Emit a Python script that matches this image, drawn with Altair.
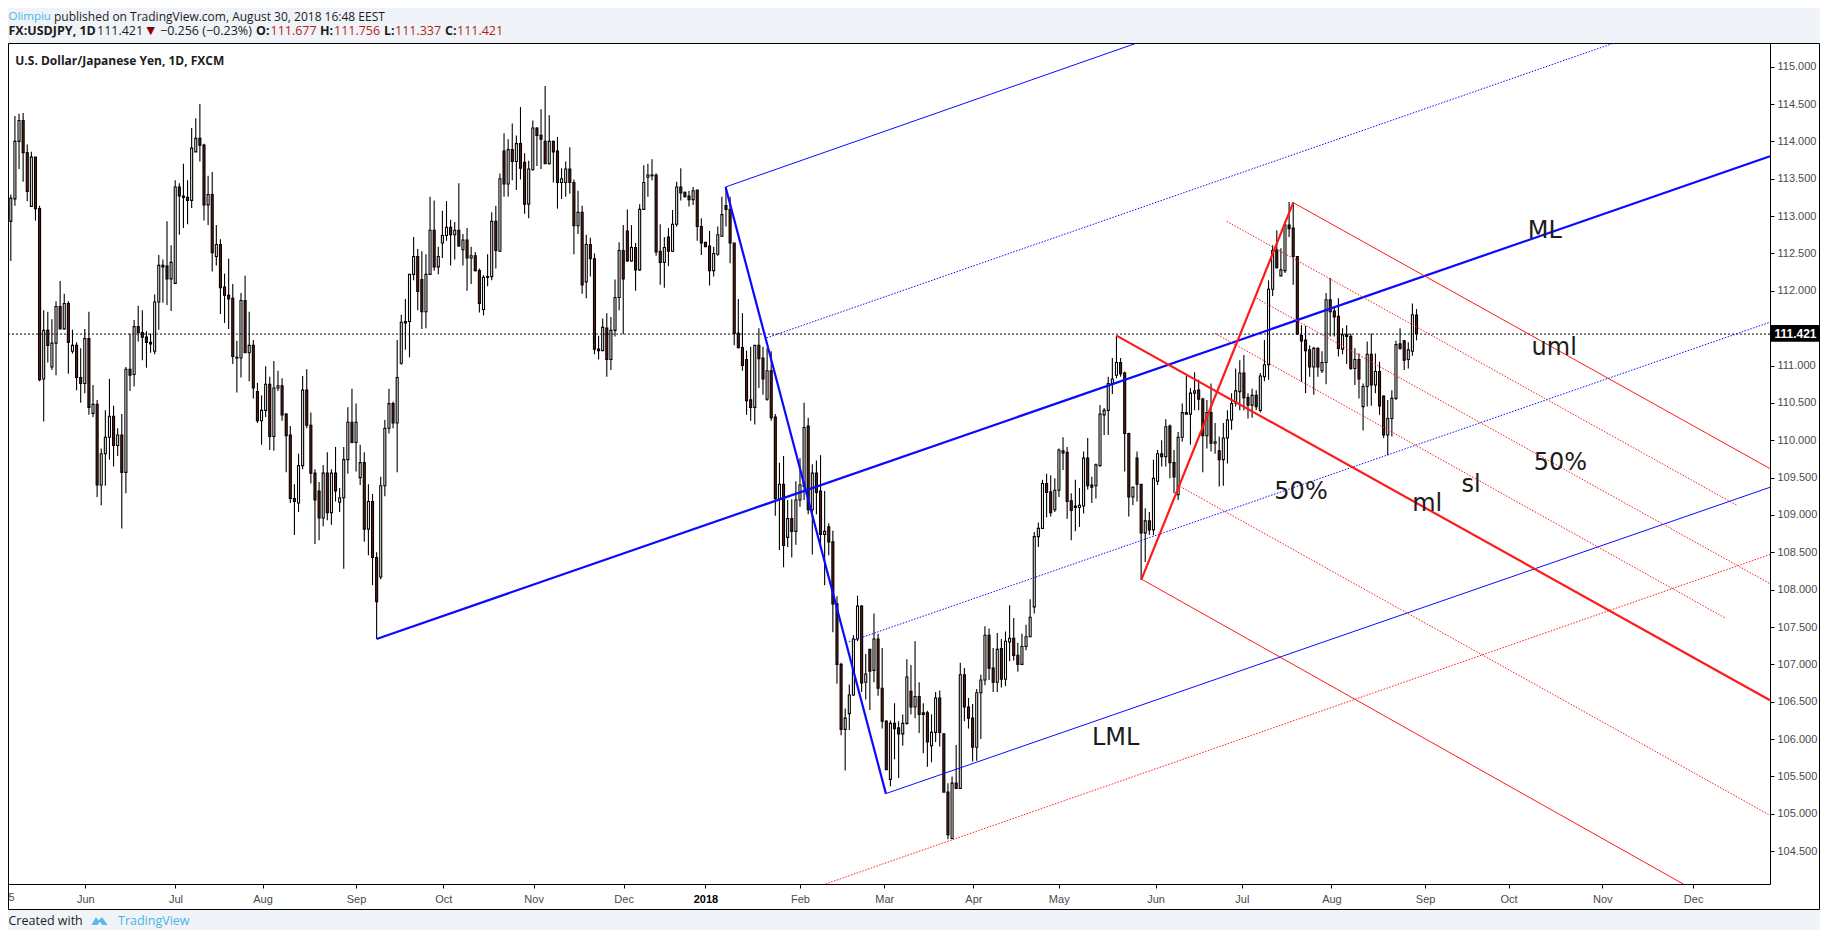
import altair as alt
import pandas as pd

directions = ("DUUUDDUDDU" "DUUDUDUDDU" "DUDUUUDUDU" "DUDDDDUUDD" "UUDDDUUDDU"
              "DUDDDDDUDU" "DDUUDUUDDD" "DUUDDDDUDU" "DUUUDUUDUD" "DUUUDUUDUU"
              "DDUUDUUUDU" "DUDUDDUDUD" "UDUDUDDUUD" "DDUDDUUDDU" "DUDDDUDUUU"
              "DDUDUUUDDD" "UDUUDDDUDD" "DDUUUDDDDD" "DDUDDUDDUD" "UDUUUDUDDU"
              "DDDDUUUUDU" "DUDDDUDDUU" "DUDDDUUDDD" "UDUDDDUUUD" "DUDUUDDUUU"
              "UUUDDUUDDD" "DUUDDUUUUU" "UDDDUDDUDU" "UDUDDUUDUU" "DDUDUDUUUU"
              "UDDUDUUUUD" "UUDDDDDDUD" "UUDDDUDDUD" "UUDUDDUUUD" "DUUD")

highs = [
 112.64,113.29,114.34,114.37,114.38,113.96,113.86,113.79,113.14,111.74,
 111.72,111.62,111.86,112.13,111.96,111.86,111.48,111.31,111.23,111.49,
 111.72,110.74,110.54,109.89,110.40,110.82,110.46,110.16,110.35,110.98,
 111.43,111.61,111.80,111.74,111.46,111.43,111.95,112.48,112.42,112.93,
 112.61,113.48,113.44,113.70,113.48,114.18,114.31,114.50,113.97,113.54,
 113.59,112.88,112.69,112.23,112.43,112.09,111.33,111.97,112.20,111.72,
 111.34,110.77,110.60,110.99,110.85,111.06,110.93,110.83,110.36,110.19,
 109.41,109.82,110.86,110.95,110.37,109.61,109.44,109.67,109.84,109.61,
 109.91,109.36,109.91,110.44,110.69,110.49,109.94,109.84,109.41,109.28,
 108.50,109.51,110.27,110.69,110.52,111.34,111.68,111.89,112.22,112.72,
 112.56,112.53,112.49,113.26,113.21,112.59,113.07,113.20,112.95,112.92,
 113.44,112.76,112.84,112.59,112.52,112.30,112.21,112.49,113.05,113.14,
 113.57,114.11,114.03,114.24,114.08,114.46,113.84,113.74,114.28,114.19,
 114.43,114.74,114.35,114.01,114.06,113.64,113.73,113.92,113.49,113.34,
 113.14,112.75,112.71,112.50,111.40,111.63,111.70,111.65,112.15,112.65,
 112.88,113.09,112.88,112.64,113.16,113.68,113.70,113.76,113.57,112.89,
 112.72,112.84,113.08,113.46,113.64,113.33,113.34,113.39,113.35,112.97,
 112.65,112.80,112.59,112.86,113.26,113.39,113.26,112.64,111.89,111.70,
 111.20,111.25,111.27,111.50,111.25,111.23,111.19,110.35,109.70,109.79,
 109.20,109.21,109.45,109.76,110.50,110.30,109.68,109.73,109.80,109.32,
 108.89,108.79,107.91,107.02,106.41,106.73,107.39,107.92,107.79,107.14,
 107.20,107.68,107.41,107.22,106.25,106.25,106.48,106.24,106.33,107.07,
 106.99,107.31,106.76,106.48,106.38,106.33,106.63,106.65,106.07,105.41,
 105.50,105.92,107.02,106.95,106.55,106.47,106.67,106.86,107.51,107.48,
 107.22,107.42,107.34,107.44,107.79,107.62,107.29,107.41,107.53,107.87,
 108.77,108.90,109.47,109.55,109.53,109.49,109.89,110.04,109.91,109.29,
 109.47,109.36,109.85,110.03,109.51,109.69,110.47,110.43,110.85,111.10,
 111.40,111.10,110.92,110.10,109.38,109.85,109.41,109.09,109.04,109.74,
 109.87,110.00,110.28,110.21,109.87,110.11,110.49,110.86,110.70,110.91,
 110.81,110.57,110.54,110.76,110.23,110.05,110.23,110.40,110.63,110.96,
 111.07,111.14,110.63,110.69,110.67,110.90,111.34,112.14,112.61,112.81,
 112.57,112.93,113.19,113.19,112.46,111.54,111.53,111.27,111.25,111.24,
 111.19,111.97,112.17,111.77,111.90,111.50,111.54,111.43,111.23,111.16,
 110.76,111.32,111.43,111.16,111.05,110.60,110.54,110.67,111.33,111.50,
 111.34,111.31,111.83,111.756]

body_tops = [
 112.64,113.24,114.00,114.28,114.28,113.85,113.79,113.79,113.10,111.47,
 111.47,111.30,111.79,111.79,111.83,111.83,111.27,111.27,110.84,111.36,
 111.36,110.48,110.48,109.82,110.04,110.32,110.32,110.07,110.07,110.95,
 110.95,111.52,111.52,111.44,111.38,111.31,111.85,112.34,112.34,112.33,
 112.38,113.39,113.39,113.27,113.25,113.91,114.04,114.04,113.95,113.29,
 113.29,112.62,112.62,112.05,111.94,111.90,111.11,111.87,111.87,111.27,
 111.27,110.65,110.40,110.75,110.75,110.70,110.73,110.73,110.35,110.07,
 109.22,109.66,110.67,110.67,110.20,109.56,109.32,109.56,109.56,109.56,
 109.56,109.23,109.74,110.24,110.24,110.24,109.70,109.70,109.18,109.18,
 108.43,109.39,110.16,110.49,110.49,110.84,111.58,111.59,112.22,112.46,
 112.46,112.15,112.22,112.81,112.81,112.46,112.74,112.85,112.85,112.81,
 112.81,112.68,112.68,112.47,112.47,112.27,112.18,112.19,112.93,112.93,
 113.50,113.87,113.89,113.89,113.97,113.97,113.72,113.63,114.18,114.18,
 114.08,114.00,114.00,114.00,113.87,113.50,113.63,113.63,113.45,113.05,
 113.05,112.62,112.62,112.43,111.22,111.51,111.50,111.47,111.91,112.54,
 112.54,112.80,112.58,112.58,113.09,113.45,113.55,113.55,113.55,112.53,
 112.58,112.72,112.89,113.39,113.39,113.32,113.27,113.34,113.35,112.86,
 112.65,112.60,112.50,112.75,113.02,113.14,113.09,112.64,111.43,111.24,
 111.08,110.54,111.27,111.27,111.10,110.93,110.93,110.31,109.41,109.41,
 108.95,108.95,109.20,109.40,110.17,110.19,109.56,109.56,109.32,108.78,
 108.84,108.64,107.81,107.00,106.28,106.59,107.34,107.78,107.78,106.87,
 107.20,107.34,107.34,106.68,106.24,106.21,106.21,106.15,106.21,106.83,
 106.64,106.57,106.57,106.35,106.35,106.09,106.55,106.55,106.07,105.29,
 105.41,105.41,106.86,106.86,106.43,106.28,106.62,106.79,107.39,107.39,
 106.95,107.20,107.21,107.31,107.35,107.35,107.12,107.24,107.37,107.63,
 108.71,108.82,109.42,109.42,109.31,109.33,109.87,109.86,109.84,109.19,
 109.12,109.13,109.76,109.76,109.40,109.67,110.35,110.40,110.76,110.82,
 111.04,111.04,110.90,110.09,109.37,109.76,109.41,108.92,108.92,109.49,
 109.82,109.82,110.18,110.19,109.70,110.04,110.37,110.37,110.63,110.66,
 110.67,110.55,110.37,110.37,109.98,109.86,110.03,110.27,110.49,110.66,
 110.90,110.90,110.57,110.60,110.60,110.86,111.01,112.02,112.54,112.55,
 112.28,112.88,112.88,112.84,112.46,111.40,111.34,111.21,111.23,111.23,
 111.04,111.88,111.88,111.73,111.66,111.41,111.41,111.39,111.08,111.08,
 110.72,111.15,111.15,110.92,110.92,110.59,110.29,110.56,111.28,111.29,
 111.33,111.21,111.68,111.677]

body_bottoms = [
 112.45,112.93,113.23,114.00,113.85,113.33,113.13,113.10,110.81,110.82,
 111.27,110.98,111.30,111.49,111.49,111.31,111.19,110.84,110.76,110.76,
 110.44,110.36,109.40,109.40,109.82,110.04,109.93,109.93,109.57,109.57,
 110.87,110.88,111.44,111.38,111.31,111.29,111.19,111.85,112.32,112.16,
 112.16,112.10,113.27,113.25,113.21,113.21,113.86,113.95,113.15,113.15,
 112.51,112.46,112.04,111.94,111.89,111.12,111.10,111.10,111.17,111.17,
 110.70,110.26,110.26,110.40,110.05,110.05,110.70,110.34,110.06,109.22,
 109.18,109.16,109.66,110.20,109.56,109.20,108.96,108.96,109.03,109.03,
 109.32,109.17,109.23,109.74,109.97,109.97,109.50,108.81,108.81,108.43,
 107.84,108.17,109.39,110.16,110.23,110.23,111.03,111.57,111.59,112.22,
 111.99,111.72,111.72,112.22,112.32,112.32,112.64,112.74,112.75,112.75,
 112.60,112.55,112.44,112.44,112.27,111.83,111.75,112.18,112.19,112.54,
 112.53,113.43,113.43,113.73,113.73,113.64,113.16,113.16,113.62,114.08,
 114.03,113.70,113.70,113.86,113.45,113.45,113.45,113.45,112.87,112.87,
 112.08,112.12,112.43,111.22,111.20,111.20,111.08,111.08,111.47,111.91,
 112.16,112.40,112.40,112.28,112.28,113.09,113.52,113.54,112.52,112.38,
 112.38,112.53,112.53,112.89,113.31,113.26,113.22,113.22,112.86,112.64,
 112.59,112.27,112.27,112.49,112.73,113.09,112.64,111.43,111.24,111.00,
 110.53,110.44,110.44,111.09,110.82,110.55,110.30,109.22,109.22,108.59,
 108.70,108.78,108.78,109.20,109.38,109.07,109.07,109.30,108.74,108.74,
 108.64,107.81,107.00,106.13,106.13,106.34,106.59,107.34,106.75,106.76,
 106.91,106.92,106.68,106.24,105.59,105.46,106.14,106.07,106.07,106.21,
 106.43,106.43,106.33,106.33,105.96,105.91,106.09,106.09,105.29,104.72,
 104.67,105.34,105.34,106.43,106.28,105.89,105.89,106.62,106.79,106.95,
 106.76,106.76,106.80,106.80,107.30,107.12,107.00,107.00,107.24,107.37,
 107.77,108.71,108.82,109.30,109.03,109.07,109.33,109.83,109.18,109.06,
 109.10,109.10,109.12,109.39,109.37,109.39,109.66,110.34,110.40,110.76,
 110.87,110.89,110.09,109.24,109.24,109.41,108.76,108.76,108.80,108.80,
 109.45,109.78,109.78,109.70,109.51,109.27,110.04,110.35,110.35,110.63,
 110.55,110.06,110.06,109.96,109.96,109.74,109.74,110.03,110.27,110.50,
 110.65,110.57,110.47,110.47,110.45,110.40,110.85,111.01,112.02,112.31,
 112.20,112.27,112.83,112.46,111.42,111.33,111.20,110.98,110.98,110.98,
 110.93,111.04,111.72,111.65,111.23,111.22,111.39,110.96,110.96,110.82,
 110.45,110.72,110.74,110.74,110.46,110.07,110.07,110.29,110.56,111.23,
 111.07,111.08,111.19,111.421]

lows = [
 112.40,112.40,113.14,113.63,113.46,113.20,113.13,112.94,110.79,110.25,
 111.04,110.94,110.87,111.49,111.48,110.89,111.16,110.67,110.50,110.63,
 110.34,110.31,109.24,109.13,109.39,109.74,109.65,109.79,108.82,109.29,
 110.66,110.72,111.32,111.07,110.97,111.17,111.15,111.48,111.84,111.81,
 111.73,112.10,112.75,112.84,112.89,113.11,113.86,113.73,112.94,112.88,
 112.26,112.34,111.69,111.57,111.49,111.02,110.64,110.84,111.17,110.79,
 110.56,110.23,109.94,110.31,109.87,109.86,110.66,110.26,109.57,109.16,
 108.73,109.04,109.61,110.16,109.42,108.61,108.66,108.85,108.93,108.87,
 109.18,109.04,108.28,109.55,109.96,109.58,109.40,108.64,108.46,108.06,
 107.34,108.14,109.25,110.09,110.16,109.57,111.01,111.21,111.11,112.14,
 111.74,111.49,111.50,112.22,112.27,112.22,112.44,112.67,112.34,112.42,
 112.59,112.34,112.00,112.09,112.26,111.71,111.67,112.06,112.14,112.30,
 112.52,113.26,113.26,113.48,113.35,113.49,113.03,112.97,113.61,113.67,
 113.63,113.70,113.69,113.45,113.10,113.23,113.26,113.30,112.49,112.76,
 111.96,111.90,112.19,111.15,111.08,111.20,110.85,110.94,111.39,111.74,
 111.42,112.39,112.39,112.00,112.27,113.08,113.26,113.48,112.47,112.08,
 112.04,112.33,112.52,112.86,113.21,113.25,113.13,113.15,112.67,112.48,
 112.59,112.07,112.19,112.47,112.72,112.86,112.37,111.27,111.23,110.93,
 110.34,110.26,110.21,110.70,110.61,110.53,110.26,108.99,108.53,108.30,
 108.57,108.43,108.60,109.11,109.20,109.01,108.47,109.01,108.58,108.06,
 108.46,107.43,106.74,106.05,105.58,106.12,106.58,107.31,106.63,106.53,
 106.39,106.76,106.58,106.14,105.59,105.37,105.73,105.48,105.91,106.19,
 106.33,106.28,106.08,105.81,105.63,105.69,105.96,105.90,105.29,104.66,
 104.66,105.34,105.34,106.24,106.14,105.70,105.71,106.00,106.72,106.79,
 106.63,106.63,106.69,106.71,107.04,107.05,106.90,106.99,107.19,107.37,
 107.68,108.57,108.81,108.97,108.98,109.04,109.24,109.60,108.95,108.66,
 108.78,108.84,109.02,109.34,109.16,109.22,109.65,110.07,110.07,110.62,
 110.83,110.85,109.58,108.98,109.13,109.18,108.13,108.37,108.73,108.73,
 109.40,109.65,109.65,109.49,109.29,109.20,109.98,110.35,109.94,110.40,
 110.40,109.57,109.89,109.85,109.82,109.38,109.39,109.69,110.14,110.45,
 110.40,110.40,110.29,110.30,110.40,110.37,110.79,110.81,111.93,112.30,
 112.20,112.24,112.72,112.08,111.41,110.78,110.63,110.85,110.61,110.85,
 110.90,110.75,111.39,111.39,111.12,111.15,111.02,110.94,110.74,110.56,
 110.13,110.45,110.46,110.63,110.34,110.03,109.80,110.05,110.54,111.21,
 110.94,110.96,111.13,111.337]

last_price = 111.421
y_ticks = [104.5,105,105.5,106,106.5,107,107.5,108,108.5,109,109.5,110,110.5,111,
           112,112.5,113,113.5,114,114.5,115]
x_tick_bars = [20.12,42.05,63.24,85.99,107.2,129.2,151.1,171,194,214.5,236.2,256.96,
               280.5,301.5,323.3,346.1,366.4,389.2,411.3]
x_tick_names = ["Jun","Jul","Aug","Sep","Oct","Nov","Dec","2018","Feb","Mar","Apr","May",
                "Jun","Jul","Aug","Sep","Oct","Nov","Dec"]

blue = "#0a0aff"
red = "#ff1a1a"
seg_name = ["B_ml","B_handle","B_up","B_lo","B_ud","B_ld",
            "R_ml","R_handle","R_up","R_lo","R_a","R_c","R_d","R_b","R_rise"]
seg_color = [blue,blue,blue,blue,blue,blue,red,red,red,red,red,red,red,red,red]
seg_width = [2.2,2.2,1,1,1,1,2.2,2.2,1,1,1,1,1,1,1]
seg_dotted = [0,0,0,0,1,1,0,0,0,0,1,1,1,1,1]
seg_b1 = [91.0,175.9,175.9,214.9,185.9,205.9,271.0,314.0,314.0,277.1,297.8,305.1,295.0,286.5,200.2]
seg_p1 = [107.34,113.39,113.39,105.27,111.37,107.30,111.40,113.18,113.18,108.14,112.93,111.90,111.43,109.38,104.06]
seg_b2 = [430.0,214.9,275.6,430.0,391.7,430.0,430.0,277.1,430.0,408.9,421.9,430.0,419.1,430.0,430.0]
seg_p2 = [113.80,105.27,115.31,109.37,115.31,111.58,106.52,108.14,109.62,104.06,109.13,108.08,107.62,104.98,108.47]

note_text = ["ML","uml","50%","50%","ml","sl","LML"]
note_bar = [375.2,377.5,315.9,379.0,346.6,357.3,270.8]
note_price = [112.80,111.24,109.31,109.70,109.14,109.40,106.01]

x_dom = [0.83, 430.0]
y_dom = [104.06, 115.317]
xs = alt.Scale(domain=x_dom, nice=False, zero=False, padding=0)
ys = alt.Scale(domain=y_dom, nice=False, zero=False)

bars = pd.DataFrame({
    "bar": list(range(1, len(highs)+1)),
    "high": highs, "low": lows, "top": body_tops, "bottom": body_bottoms,
    "dir": list(directions),
})
rows = []
for i, n in enumerate(seg_name):
    rows.append(dict(name=n, bar=seg_b1[i], price=seg_p1[i]))
    rows.append(dict(name=n, bar=seg_b2[i], price=seg_p2[i]))
segs = pd.DataFrame(rows)

one = pd.DataFrame({"a": [0]})

def box(x1, x2, y1, y2, fill, stroke=None):
    kw = dict(fill=fill)
    if stroke:
        kw.update(stroke=stroke, strokeWidth=1)
    else:
        kw.update(strokeWidth=0)
    return alt.Chart(one).mark_rect(**kw).encode(
        x=alt.value(x1), x2=alt.value(x2), y=alt.value(y1), y2=alt.value(y2))

def label(txt, x, y, color="#1c1c1c", size=12, weight="normal", font="Open Sans", align="left"):
    return alt.Chart(one).mark_text(text=txt, color=color, fontSize=size, fontWeight=weight,
                                    font=font, align=align, baseline="middle").encode(
        x=alt.value(x), y=alt.value(y))

PX, PY = 6, 43
def hdr(txt, px, py, **kw):
    return label(txt, px-PX, py-PY, **kw)

panel = box(2.5, 1813.5, 0.5, 866.5, "#ffffff", "#000000")

names = {str(v): n for v, n in zip(x_tick_bars, x_tick_names)}
label_expr = "{" + ",".join(f"'{k}':'{v}'" for k, v in names.items()) + "}['' + datum.value]"

x_axis = alt.Axis(title=None, values=x_tick_bars, labelExpr=label_expr, grid=False, zindex=1,
                  domainColor="#000000", tickColor="#000000", tickSize=4, labelFont="Liberation Sans",
                  labelFontSize=11, labelPadding=5, labelOverlap=False,
                  labelFontWeight={"condition": {"test": "datum.value == 171", "value": "bold"}, "value": "normal"},
                  labelColor={"condition": {"test": "datum.value == 171", "value": "#000000"}, "value": "#4a4a4a"})
y_axis = alt.Axis(title=None, orient="right", values=y_ticks, format=".3f", grid=False, zindex=1,
                  domainColor="#000000", tickColor="#000000", tickSize=4, labelFont="Liberation Sans",
                  labelFontSize=11, labelColor="#4a4a4a", labelPadding=3, labelOverlap=False)

X = alt.X("bar:Q", scale=xs, axis=x_axis)

wicks = alt.Chart(bars).mark_rule(color="#000000", strokeWidth=1.1).encode(
    x=X, y=alt.Y("low:Q", scale=ys, axis=y_axis), y2="high:Q")

bodies = alt.Chart(bars).mark_bar(size=2, stroke="#000000", strokeWidth=1.1, orient="vertical").encode(
    x=X, y=alt.Y("bottom:Q", scale=ys, axis=y_axis), y2="top:Q",
    fill=alt.Fill("dir:N", legend=None,
                  scale=alt.Scale(domain=["U", "D"], range=["#ffffff", "#6a1a10"])))

last_line = alt.Chart(pd.DataFrame({"price": [last_price]})).mark_rule(
    color="#000000", strokeWidth=1, strokeDash=[2, 2]).encode(
    y=alt.Y("price:Q", scale=ys, axis=y_axis))

line_layers = []
for i, n in enumerate(seg_name):
    kw = dict(color=seg_color[i], strokeWidth=seg_width[i])
    if seg_dotted[i]:
        kw["strokeDash"] = [1.5, 1.5]
    line_layers.append(
        alt.Chart(segs[segs.name == n]).mark_line(**kw).encode(
            x=X, y=alt.Y("price:Q", scale=ys, axis=y_axis)))

notes = alt.Chart(pd.DataFrame({"t": note_text, "bar": note_bar, "price": note_price})).mark_text(
    font="DejaVu Sans", fontSize=24, color="#1c1c1c", align="center", baseline="middle").encode(
    x=X, y=alt.Y("price:Q", scale=ys, axis=y_axis), text="t:N")

tag = box(1764, 1813, 282, 298.7, "#000000")
tag_txt = hdr(f"{last_price:.3f}", 1795.5, 334, color="#ffffff", size=12, weight="bold",
              font="Liberation Sans", align="center")

red_txt = "#b71c1c"
chrome = [
    hdr("Olimpiu", 8.5, 16.5, color="#45b6e8", size=11.5),
    hdr("published on TradingView.com, August 30, 2018 16:48 EEST", 54, 16.5, size=12),
    hdr("FX:USDJPY, 1D", 8.5, 31, size=12.5, weight="bold"),
    hdr("111.421", 97, 31, size=12.5),
    hdr("−0.256 (−0.23%)", 160, 31, size=12.5),
    hdr("O:", 256, 31, size=12.5, weight="bold"), hdr("111.677", 270.5, 31, size=12.5, color=red_txt),
    hdr("H:", 320, 31, size=12.5, weight="bold"), hdr("111.756", 334, 31, size=12.5, color=red_txt),
    hdr("L:", 384, 31, size=12.5, weight="bold"), hdr("111.337", 395, 31, size=12.5, color=red_txt),
    hdr("C:", 445, 31, size=12.5, weight="bold"), hdr("111.421", 457, 31, size=12.5, color=red_txt),
    hdr("▼", 146.5, 31, size=11, color="#8b0000", font="DejaVu Sans"),
    hdr("U.S. Dollar/Japanese Yen, 1D, FXCM", 15.3, 60.5, size=12, weight="bold"),
    hdr("5", 8.5, 898, size=11, color="#4a4a4a", font="Liberation Sans"),
    hdr("Created with", 8.5, 921, size=12.5),
    hdr("TradingView", 118, 921, size=12.5, color="#45b6e8"),
]
logo = alt.Chart(one).mark_point(
    shape="M-1,0.5 L-0.45,-0.45 L-0.1,-0.05 L0.3,-0.5 L1,0.5 L0.35,0.5 L0.05,0.1 L-0.25,0.5 Z",
    filled=True, color="#55bdea", opacity=1, size=260).encode(
    x=alt.value(99.5-PX), y=alt.value(921-PY))

chart = alt.layer(
    panel, wicks, bodies, last_line, *line_layers, notes, tag, tag_txt, *chrome, logo
).properties(
    width=1764, height=841, background="#f0f3f7",
    autosize=alt.AutoSizeParams(type="none"),
    padding={"left": -2, "top": 35, "right": 50, "bottom": 46},
).configure_view(stroke=None)

chart.save("out.html", embed_options={"renderer": "svg", "actions": False})
